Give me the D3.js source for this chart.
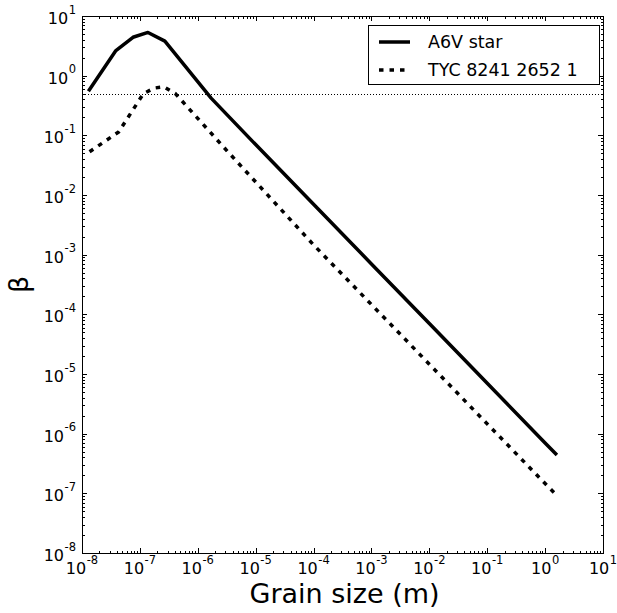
<!DOCTYPE html>
<html>
<head>
<meta charset="utf-8">
<script src="https://cdn.jsdelivr.net/npm/d3@7"></script>
<style>
  html, body { margin: 0; padding: 0; background: #fff; }
  svg { display: block; font-family: "DejaVu Sans", sans-serif; }
</style>
</head>
<body>
<svg id="chart" width="617" height="613"></svg>
<script>
// ---------- data ----------
const seriesNames = ["A6V star", "TYC 8241 2652 1"];
const a6vSize = [1.29e-8, 3.8e-8, 7.6e-8, 1.38e-7, 2.7e-7, 1.7e-6, 1e-5, 1e-4, 1e-3, 1e-2, 1e-1, 1, 1.6];
const a6vBeta = [0.55, 2.6, 4.4, 5.3, 3.8, 0.42, 0.07, 0.007, 7e-4, 7e-5, 7e-6, 7e-7, 4.4e-7];
const tycSize = [1.35e-8, 4.3e-8, 1.15e-7, 1.78e-7, 2.57e-7, 4.1e-7, 3.2e-6, 1e-4, 1e-3, 1e-2, 1e-1, 1, 1.6];
const tycBeta = [0.053, 0.114, 0.50, 0.62, 0.65, 0.50, 0.055, 1.46e-3, 1.46e-4, 1.46e-5, 1.46e-6, 1.46e-7, 9.2e-8];
const betaThreshold = 0.5;
const xTickExponents = [-8, -7, -6, -5, -4, -3, -2, -1, 0, 1];
const yTickExponents = [-8, -7, -6, -5, -4, -3, -2, -1, 0, 1];
const xLabel = "Grain size (m)";
const yLabel = "β";

// ---------- layout ----------
const svg = d3.select("#chart");
const L = 82, R = 603, T = 16, B = 553;

const x = d3.scaleLog().domain([1e-8, 10]).range([L, R]);
const y = d3.scaleLog().domain([1e-8, 10]).range([B, T]);

const majorX = xTickExponents.map(e => Math.pow(10, e));
const majorY = yTickExponents.map(e => Math.pow(10, e));
function minors(exps) {
  const out = [];
  for (let i = 0; i < exps.length - 1; i++)
    for (let m = 2; m <= 9; m++) out.push(m * Math.pow(10, exps[i]));
  return out;
}
const minorX = minors(xTickExponents);
const minorY = minors(yTickExponents);

// ---------- ticks (inward, all four sides) ----------
function addAxis(gen, transform) {
  const g = svg.append("g").attr("transform", transform).call(gen);
  g.select(".domain").remove();
  g.selectAll("text").remove();
  g.selectAll("line").attr("stroke", "#000").attr("stroke-width", 1).attr("shape-rendering", "crispEdges");
}
addAxis(d3.axisBottom(x).tickValues(majorX).tickSize(-5), `translate(0,${B})`);
addAxis(d3.axisBottom(x).tickValues(minorX).tickSize(-2.5), `translate(0,${B})`);
addAxis(d3.axisTop(x).tickValues(majorX).tickSize(-5), `translate(0,${T})`);
addAxis(d3.axisTop(x).tickValues(minorX).tickSize(-2.5), `translate(0,${T})`);
addAxis(d3.axisLeft(y).tickValues(majorY).tickSize(-5), `translate(${L},0)`);
addAxis(d3.axisLeft(y).tickValues(minorY).tickSize(-2.5), `translate(${L},0)`);
addAxis(d3.axisRight(y).tickValues(majorY).tickSize(-5), `translate(${R},0)`);
addAxis(d3.axisRight(y).tickValues(minorY).tickSize(-2.5), `translate(${R},0)`);

// frame
svg.append("rect")
  .attr("x", L).attr("y", T).attr("width", R - L).attr("height", B - T)
  .attr("fill", "none").attr("stroke", "#000").attr("stroke-width", 1)
  .attr("shape-rendering", "crispEdges");

// ---------- tick labels ----------
function powLabel(sel, exp) {
  sel.append("tspan").text("10");
  sel.append("tspan").attr("font-size", 11.5).attr("dy", -10.5).attr("dx", 0.5).text(exp < 0 ? "-" + (-exp) : String(exp));
}
xTickExponents.forEach(e => {
  const t = svg.append("text")
    .attr("x", x(Math.pow(10, e)))
    .attr("y", 574)
    .attr("text-anchor", "middle")
    .attr("font-size", 16)
    .attr("fill", "#000");
  powLabel(t, e);
});
yTickExponents.forEach(e => {
  const t = svg.append("text")
    .attr("x", 76)
    .attr("y", y(Math.pow(10, e)) + 8)
    .attr("text-anchor", "end")
    .attr("font-size", 16)
    .attr("fill", "#000");
  powLabel(t, e);
});

// axis titles
svg.append("text")
  .attr("x", (L + R) / 2 + 2).attr("y", 603)
  .attr("text-anchor", "middle").attr("font-size", 27)
  .attr("fill", "#000").text(xLabel);
svg.append("text")
  .attr("transform", `translate(28,${(T + B) / 2}) rotate(-90)`)
  .attr("text-anchor", "middle").attr("font-size", 27)
  .attr("fill", "#000").text(yLabel);

// ---------- threshold dotted line ----------
svg.append("line")
  .attr("x1", L).attr("x2", R)
  .attr("y1", Math.round(y(betaThreshold)) + 0.5).attr("y2", Math.round(y(betaThreshold)) + 0.5)
  .attr("stroke", "#000").attr("stroke-width", 1).attr("stroke-dasharray", "1,2");

// ---------- series ----------
const line = d3.line().x(d => x(d[0])).y(d => y(d[1]));

svg.append("path")
  .datum(d3.zip(a6vSize, a6vBeta))
  .attr("d", line)
  .attr("fill", "none").attr("stroke", "#000").attr("stroke-width", 3.5)
  .attr("stroke-linejoin", "round");

svg.append("path")
  .datum(d3.zip(tycSize, tycBeta))
  .attr("d", line)
  .attr("fill", "none").attr("stroke", "#000").attr("stroke-width", 3.5)
  .attr("stroke-dasharray", "4.5,6");

// ---------- legend ----------
const lg = svg.append("g");
lg.append("rect")
  .attr("x", 368.5).attr("y", 25.5).attr("width", 231).attr("height", 59)
  .attr("fill", "#fff").attr("stroke", "#000").attr("stroke-width", 1);
const legendStyles = [null, "4.5,6"];
seriesNames.forEach((name, i) => {
  const yy = 42 + i * 28;
  lg.append("line")
    .attr("x1", 379).attr("x2", 410).attr("y1", yy).attr("y2", yy)
    .attr("stroke", "#000").attr("stroke-width", 3.5)
    .attr("stroke-dasharray", legendStyles[i]);
  lg.append("text")
    .attr("x", 428).attr("y", yy + 5.5)
    .attr("font-size", 17.5).attr("fill", "#000")
    .text(name);
});
</script>
</body>
</html>
